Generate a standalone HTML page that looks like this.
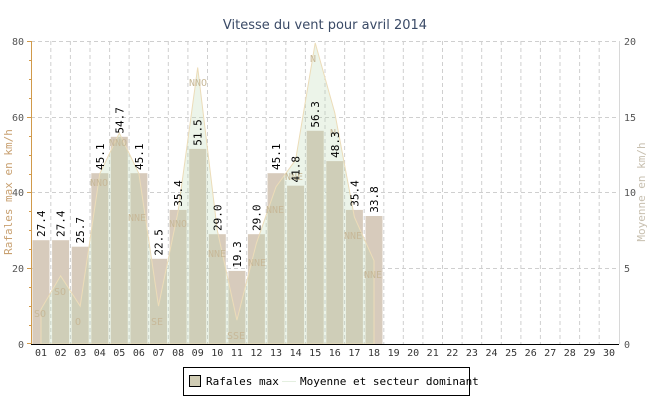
<!DOCTYPE html>
<html><head><meta charset="utf-8"><style>
body{margin:0;background:#fff}
svg{display:block}
text{font-family:"DejaVu Sans Mono","Liberation Mono",monospace}
</style></head><body>
<svg width="650" height="400" viewBox="0 0 650 400" xmlns="http://www.w3.org/2000/svg">
<rect width="650" height="400" fill="#fff"/>
<text x="325" y="29" text-anchor="middle" font-size="13" fill="#3a4a66" style="font-family:'DejaVu Sans',sans-serif">Vitesse du vent pour avril 2014</text>
<g stroke="#cfcfcf" stroke-dasharray="4,3" stroke-width="1">
<line x1="31" y1="41.5" x2="619" y2="41.5"/><line x1="31" y1="117.5" x2="619" y2="117.5"/><line x1="31" y1="192.5" x2="619" y2="192.5"/><line x1="31" y1="268.5" x2="619" y2="268.5"/>
<line x1="50.8" y1="41" x2="50.8" y2="344"/><line x1="70.4" y1="41" x2="70.4" y2="344"/><line x1="90" y1="41" x2="90" y2="344"/><line x1="109.6" y1="41" x2="109.6" y2="344"/><line x1="129.1" y1="41" x2="129.1" y2="344"/><line x1="148.7" y1="41" x2="148.7" y2="344"/><line x1="168.3" y1="41" x2="168.3" y2="344"/><line x1="187.9" y1="41" x2="187.9" y2="344"/><line x1="207.5" y1="41" x2="207.5" y2="344"/><line x1="227.1" y1="41" x2="227.1" y2="344"/><line x1="246.7" y1="41" x2="246.7" y2="344"/><line x1="266.2" y1="41" x2="266.2" y2="344"/><line x1="285.8" y1="41" x2="285.8" y2="344"/><line x1="305.4" y1="41" x2="305.4" y2="344"/><line x1="325" y1="41" x2="325" y2="344"/><line x1="344.6" y1="41" x2="344.6" y2="344"/><line x1="364.2" y1="41" x2="364.2" y2="344"/><line x1="383.8" y1="41" x2="383.8" y2="344"/><line x1="403.3" y1="41" x2="403.3" y2="344"/><line x1="422.9" y1="41" x2="422.9" y2="344"/><line x1="442.5" y1="41" x2="442.5" y2="344"/><line x1="462.1" y1="41" x2="462.1" y2="344"/><line x1="481.7" y1="41" x2="481.7" y2="344"/><line x1="501.3" y1="41" x2="501.3" y2="344"/><line x1="520.9" y1="41" x2="520.9" y2="344"/><line x1="540.4" y1="41" x2="540.4" y2="344"/><line x1="560" y1="41" x2="560" y2="344"/><line x1="579.6" y1="41" x2="579.6" y2="344"/><line x1="599.2" y1="41" x2="599.2" y2="344"/>
</g>
<g fill="#d7cbbc">
<rect x="32.5" y="240.2" width="17" height="103.8"/><rect x="52.1" y="240.2" width="17" height="103.8"/><rect x="71.7" y="246.7" width="17" height="97.3"/><rect x="91.3" y="173.2" width="17" height="170.8"/><rect x="110.8" y="136.8" width="17" height="207.2"/><rect x="130.4" y="173.2" width="17" height="170.8"/><rect x="150" y="258.8" width="17" height="85.2"/><rect x="169.6" y="209.9" width="17" height="134.1"/><rect x="189.2" y="148.9" width="17" height="195.1"/><rect x="208.8" y="234.2" width="17" height="109.8"/><rect x="228.4" y="270.9" width="17" height="73.1"/><rect x="247.9" y="234.2" width="17" height="109.8"/><rect x="267.5" y="173.2" width="17" height="170.8"/><rect x="287.1" y="185.7" width="17" height="158.3"/><rect x="306.7" y="130.8" width="17" height="213.2"/><rect x="326.3" y="161.1" width="17" height="182.9"/><rect x="345.9" y="209.9" width="17" height="134.1"/><rect x="365.5" y="216" width="17" height="128"/>
</g>
<polygon points="41,344 41,309.2 60.6,275.8 80.2,306.1 99.8,173.6 119.3,133 138.9,173.6 158.5,306.1 178.1,211.4 197.7,67.5 217.3,230.4 236.9,320.1 256.4,243.3 276,186.8 295.6,159.9 315.2,42.9 334.8,112.9 354.4,217.1 374,260.7 374,344" fill="rgba(185,215,175,0.28)" stroke="#ecdcb8" stroke-width="1"/>
<g font-size="10" fill="#c7b898" text-anchor="middle">
<text x="40" y="317">SO</text><text x="60" y="295">SO</text><text x="78" y="325">O</text><text x="99" y="186">NNO</text><text x="118" y="146">NNO</text><text x="137" y="221">NNE</text><text x="157" y="325">SE</text><text x="178" y="227">NNO</text><text x="198" y="86">NNO</text><text x="217" y="257">NNE</text><text x="236" y="339">SSE</text><text x="257" y="266">NNE</text><text x="275" y="213">NNE</text><text x="294" y="180">NNE</text><text x="313" y="62">N</text><text x="333" y="136">N</text><text x="353" y="239">NNE</text><text x="373" y="278">NNE</text>
</g>
<g font-size="11" fill="#000">
<text transform="translate(45,237) rotate(-90)">27.4</text><text transform="translate(64.6,237) rotate(-90)">27.4</text><text transform="translate(84.2,243.5) rotate(-90)">25.7</text><text transform="translate(103.8,170) rotate(-90)">45.1</text><text transform="translate(123.3,133.6) rotate(-90)">54.7</text><text transform="translate(142.9,170) rotate(-90)">45.1</text><text transform="translate(162.5,255.6) rotate(-90)">22.5</text><text transform="translate(182.1,206.7) rotate(-90)">35.4</text><text transform="translate(201.7,145.7) rotate(-90)">51.5</text><text transform="translate(221.3,231) rotate(-90)">29.0</text><text transform="translate(240.9,267.7) rotate(-90)">19.3</text><text transform="translate(260.4,231) rotate(-90)">29.0</text><text transform="translate(280,170) rotate(-90)">45.1</text><text transform="translate(299.6,182.5) rotate(-90)">41.8</text><text transform="translate(319.2,127.6) rotate(-90)">56.3</text><text transform="translate(338.8,157.9) rotate(-90)">48.3</text><text transform="translate(358.4,206.7) rotate(-90)">35.4</text><text transform="translate(378,212.8) rotate(-90)">33.8</text>
</g>
<line x1="31.5" y1="41" x2="31.5" y2="344" stroke="#d19a4a"/>
<g stroke="#d19a4a"><line x1="27" y1="41.5" x2="31" y2="41.5"/><line x1="27" y1="117.5" x2="31" y2="117.5"/><line x1="27" y1="192.5" x2="31" y2="192.5"/><line x1="27" y1="268.5" x2="31" y2="268.5"/><line x1="27" y1="343.5" x2="31" y2="343.5"/>
<line x1="29" y1="60.5" x2="31" y2="60.5"/><line x1="29" y1="79.5" x2="31" y2="79.5"/><line x1="29" y1="98.5" x2="31" y2="98.5"/><line x1="29" y1="136.5" x2="31" y2="136.5"/><line x1="29" y1="155.5" x2="31" y2="155.5"/><line x1="29" y1="174.5" x2="31" y2="174.5"/><line x1="29" y1="211.5" x2="31" y2="211.5"/><line x1="29" y1="230.5" x2="31" y2="230.5"/><line x1="29" y1="249.5" x2="31" y2="249.5"/><line x1="29" y1="287.5" x2="31" y2="287.5"/><line x1="29" y1="306.5" x2="31" y2="306.5"/><line x1="29" y1="325.5" x2="31" y2="325.5"/></g>
<line x1="619.5" y1="41" x2="619.5" y2="344" stroke="#d8d8d8"/>
<line x1="31" y1="344.5" x2="619" y2="344.5" stroke="#000"/>
<g font-size="10" fill="#555" text-anchor="end">
<text x="24" y="45">80</text><text x="24" y="121">60</text><text x="24" y="196">40</text><text x="24" y="272">20</text><text x="24" y="348">0</text></g>
<g font-size="10" fill="#555">
<text x="624" y="45">20</text><text x="624" y="121">15</text><text x="624" y="196">10</text><text x="624" y="272">5</text><text x="624" y="348">0</text></g>
<text transform="translate(12,192) rotate(-90)" font-size="11" fill="#c8a070" text-anchor="middle">Rafales max en km/h</text>
<text transform="translate(645,192) rotate(-90)" font-size="11" fill="#c8c0b0" text-anchor="middle">Moyenne en km/h</text>
<g font-size="10" fill="#333" text-anchor="middle">
<text x="41" y="356">01</text><text x="60.6" y="356">02</text><text x="80.2" y="356">03</text><text x="99.8" y="356">04</text><text x="119.3" y="356">05</text><text x="138.9" y="356">06</text><text x="158.5" y="356">07</text><text x="178.1" y="356">08</text><text x="197.7" y="356">09</text><text x="217.3" y="356">10</text><text x="236.9" y="356">11</text><text x="256.4" y="356">12</text><text x="276" y="356">13</text><text x="295.6" y="356">14</text><text x="315.2" y="356">15</text><text x="334.8" y="356">16</text><text x="354.4" y="356">17</text><text x="374" y="356">18</text><text x="393.6" y="356">19</text><text x="413.1" y="356">20</text><text x="432.7" y="356">21</text><text x="452.3" y="356">22</text><text x="471.9" y="356">23</text><text x="491.5" y="356">24</text><text x="511.1" y="356">25</text><text x="530.7" y="356">26</text><text x="550.2" y="356">27</text><text x="569.8" y="356">28</text><text x="589.4" y="356">29</text><text x="609" y="356">30</text></g>
<rect x="183.5" y="367.5" width="286" height="28" fill="#fff" stroke="#000"/>
<rect x="189.5" y="375.5" width="11" height="11" fill="#d0ccb4" stroke="#000"/>
<text x="206" y="385" font-size="11" fill="#000">Rafales max</text>
<line x1="282" y1="381.5" x2="296" y2="381.5" stroke="#e4efe0"/>
<text x="300" y="385" font-size="11" fill="#000">Moyenne et secteur dominant</text>
</svg>
</body></html>
